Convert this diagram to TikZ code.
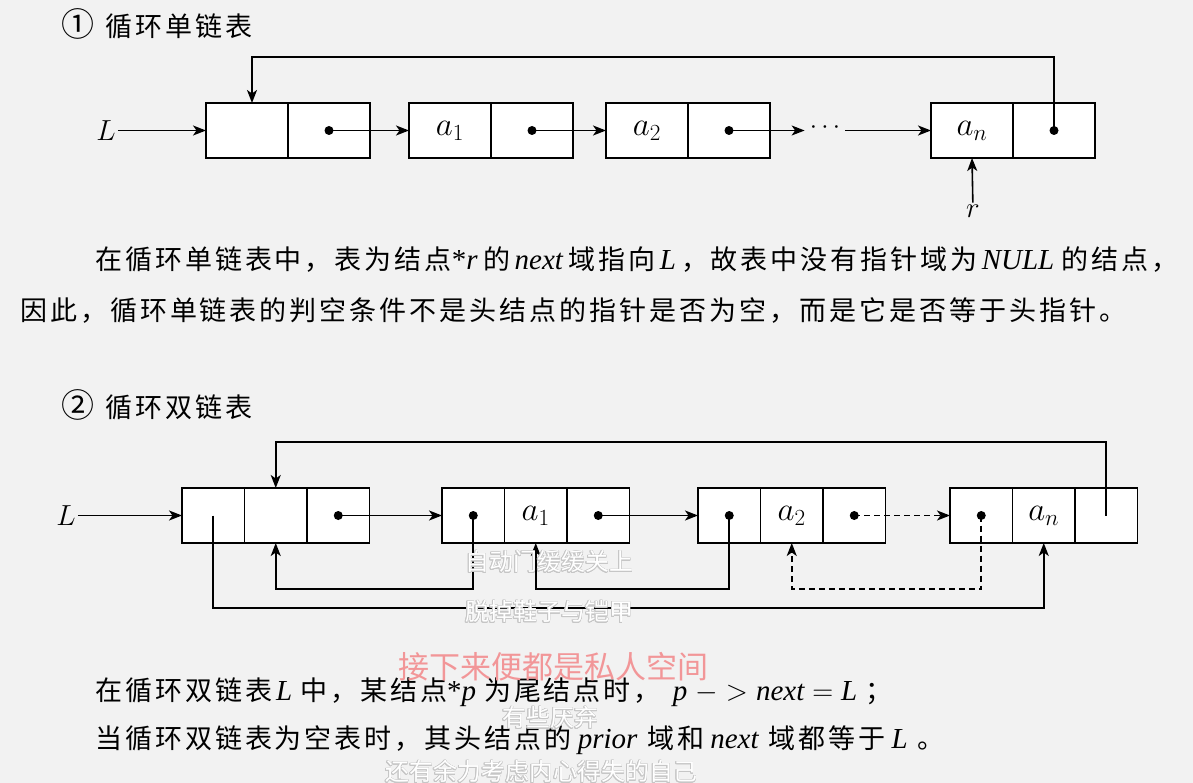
\RequirePackage{fix-cm}
\documentclass[tikz,border=0pt]{standalone}
\usepackage{fontspec}
\setmainfont{Liberation Serif}
\newfontfamily\cjk[LetterSpace=11]{Noto Sans CJK SC}
\newfontfamily\cjkplain{Noto Sans CJK SC}
\usepackage[copies]{contour}
\usetikzlibrary{arrows.meta,positioning}
\definecolor{bgc}{RGB}{242,242,242}
\definecolor{pinkdm}{RGB}{242,150,152}
\newcommand{\tmi}[1]{{\fontsize{29}{32}\rmfamily\itshape #1}}
\newcommand{\tmr}[1]{{\fontsize{29}{32}\selectfont #1}}
\contourlength{0.45pt}

\tikzset{
  cell/.style={draw, line width=1.1pt, fill=white, minimum width=82pt, minimum height=55pt, inner sep=0pt, outer sep=0pt, font=\fontsize{33}{35}\selectfont},
  dcell/.style={cell, minimum width=62.5pt},
  frame/.style={line width=1.8pt},
  ptr/.style={line width=1.6pt, -{Stealth[length=13pt,width=10pt,inset=3.5pt]}},
  dot/.style={circle, fill, inner sep=0pt, minimum size=9pt},
  lbl/.style={inner sep=2pt, font=\fontsize{29}{31}\selectfont},
  txt/.style={anchor=base west, inner sep=0pt, font=\fontsize{27}{32}\cjk},
  danmu/.style={anchor=west, inner sep=0pt, text=white, font=\fontsize{24}{26}\cjkplain}
}

\begin{document}
\begin{tikzpicture}[x=1pt,y=-1pt]
\fill[bgc] (0,0) rectangle (1193,783);
\useasboundingbox (0,0) rectangle (1193,783);

% ---- circular singly linked list
\node[txt] (head1) at (61,37) {{\fontsize{33}{33}\selectfont ①}\hspace{11pt}循环单链表};
\node[cell] (h0d) at (247,130.5) {};
\node[cell, right=0pt of h0d] (h0n) {};
\node[cell] (n1d) at (450,130.5) {$a_1$};
\node[cell, right=0pt of n1d] (n1n) {};
\node[cell] (n2d) at (647,130.5) {$a_2$};
\node[cell, right=0pt of n2d] (n2n) {};
\node[cell] (nnd) at (972,130.5) {$a_n$};
\node[cell, right=0pt of nnd] (nnn) {};
\foreach \a/\b in {h0d/h0n,n1d/n1n,n2d/n2n,nnd/nnn}
  \draw[frame] (\a.north west) rectangle (\b.south east);

\node[lbl] (L1) at (106,130.5) {$L$};
\node[inner sep=5pt, font=\fontsize{26}{28}\selectfont] (ell) at (825,128) {$\cdots$};
\node[lbl] (r) at (973,211) {$r$};

\draw[ptr] (L1) -- (h0d.west);
\draw[ptr] (h0n.center) -- (n1d.west);
\draw[ptr] (n1n.center) -- (n2d.west);
\draw[ptr] (n2n.center) -- (n2n.center -| ell.west);
\draw[ptr] (nnd.west -| ell.east) -- (nnd.west);
\draw[ptr] (nnn.center) -- ++(0,-73.5) -| ([xshift=5pt]h0d.north);
\draw[ptr] (r) -- (nnd.south);
\foreach \c in {h0n,n1n,n2n,nnn}
  \node[dot] at (\c.center) {};

\node[txt] (p1a) at (95,270) {在循环单链表中，表为结点\tmr{\rmfamily *}\tmi{r}\hspace{6pt}的\hspace{4pt}\tmi{next}\hspace{6pt}域指向\hspace{4pt}\tmi{L}\hspace{5pt}，故表中没有指针域为\hspace{4pt}\tmi{NULL}\hspace{7pt}的结点，};
\node[txt] (p1b) at (20,320) {因此，循环单链表的判空条件不是头结点的指针是否为空，而是它是否等于头指针。};

% ---- circular doubly linked list
\node[txt] (head2) at (61,417) {{\fontsize{33}{33}\selectfont ②}\hspace{11pt}循环双链表};
\node[dcell] (h2p) at (213.25,515.5) {};
\node[dcell, right=0pt of h2p] (h2d) {};
\node[dcell, right=0pt of h2d] (h2n) {};
\node[dcell] (m1p) at (473.25,515.5) {};
\node[dcell, right=0pt of m1p] (m1d) {$a_1$};
\node[dcell, right=0pt of m1d] (m1n) {};
\node[dcell] (m2p) at (729.25,515.5) {};
\node[dcell, right=0pt of m2p] (m2d) {$a_2$};
\node[dcell, right=0pt of m2d] (m2n) {};
\node[dcell] (mnp) at (981.25,515.5) {};
\node[dcell, right=0pt of mnp] (mnd) {$a_n$};
\node[dcell, right=0pt of mnd] (mnn) {};
\foreach \a/\b in {h2p/h2n,m1p/m1n,m2p/m2n,mnp/mnn}
  \draw[frame] (\a.north west) rectangle (\b.south east);

\node[lbl] (L2) at (66,515.5) {$L$};
\draw[ptr] (L2) -- (h2p.west);
\draw[ptr] (h2n.center) -- (m1p.west);
\draw[ptr] (m1n.center) -- (m2p.west);
\draw[ptr, dash pattern=on 6pt off 4pt] (m2n.center) -- (mnp.west);
\draw[ptr] (mnn.center) -- ++(0,-73.5) -| (h2d.north);
\draw[ptr] (h2p.center) -- ++(0,92.5) -| (mnd.south);
\draw[ptr] (m1p.center) -- ++(0,73.5) -| (h2d.south);
\draw[ptr] (m2p.center) -- ++(0,73.5) -| (m1d.south);
\draw[ptr, dash pattern=on 6pt off 4pt] (mnp.center) -- ++(0,73.5) -| (m2d.south);
\foreach \c in {h2n,m1p,m1n,m2p,m2n,mnp}
  \node[dot] at (\c.center) {};

\node[txt] (p2a) at (95,700) {在循环双链表\hspace{4pt}\tmi{L}\hspace{8pt}中，某结点\tmr{\rmfamily *}\tmi{p}\hspace{8pt}为尾结点时，\hspace{12pt}\tmi{p}\hspace{8pt}\tmr{$-$}\hspace{8pt}\tmr{$>$}\hspace{8pt}\tmi{next}\hspace{8pt}\tmr{$=$}\hspace{8pt}\tmi{L}\hspace{8pt}；};
\node[txt] (p2b) at (95,748) {当循环双链表为空表时，其头结点的\hspace{6pt}\tmi{prior}\hspace{10pt}域和\hspace{6pt}\tmi{next}\hspace{10pt}域都等于\hspace{6pt}\tmi{L}\hspace{10pt}。};

% ---- overlaid comments
\node[danmu] (dm1) at (465,562) {\contour{gray!45}{自动门缓缓关上}};
\node[danmu] (dm2) at (465,612) {\contour{gray!45}{脱掉鞋子与铠甲}};
\node[danmu, text=pinkdm, font=\fontsize{31}{33}\cjkplain] (dm3) at (398,667) {接下来便都是私人空间};
\node[danmu] (dm4) at (502,718) {\contour{gray!45}{有些厌弃}};
\node[danmu] (dm5) at (385,772) {\contour{gray!45}{还有余力考虑内心得失的自己}};
\end{tikzpicture}
\end{document}
